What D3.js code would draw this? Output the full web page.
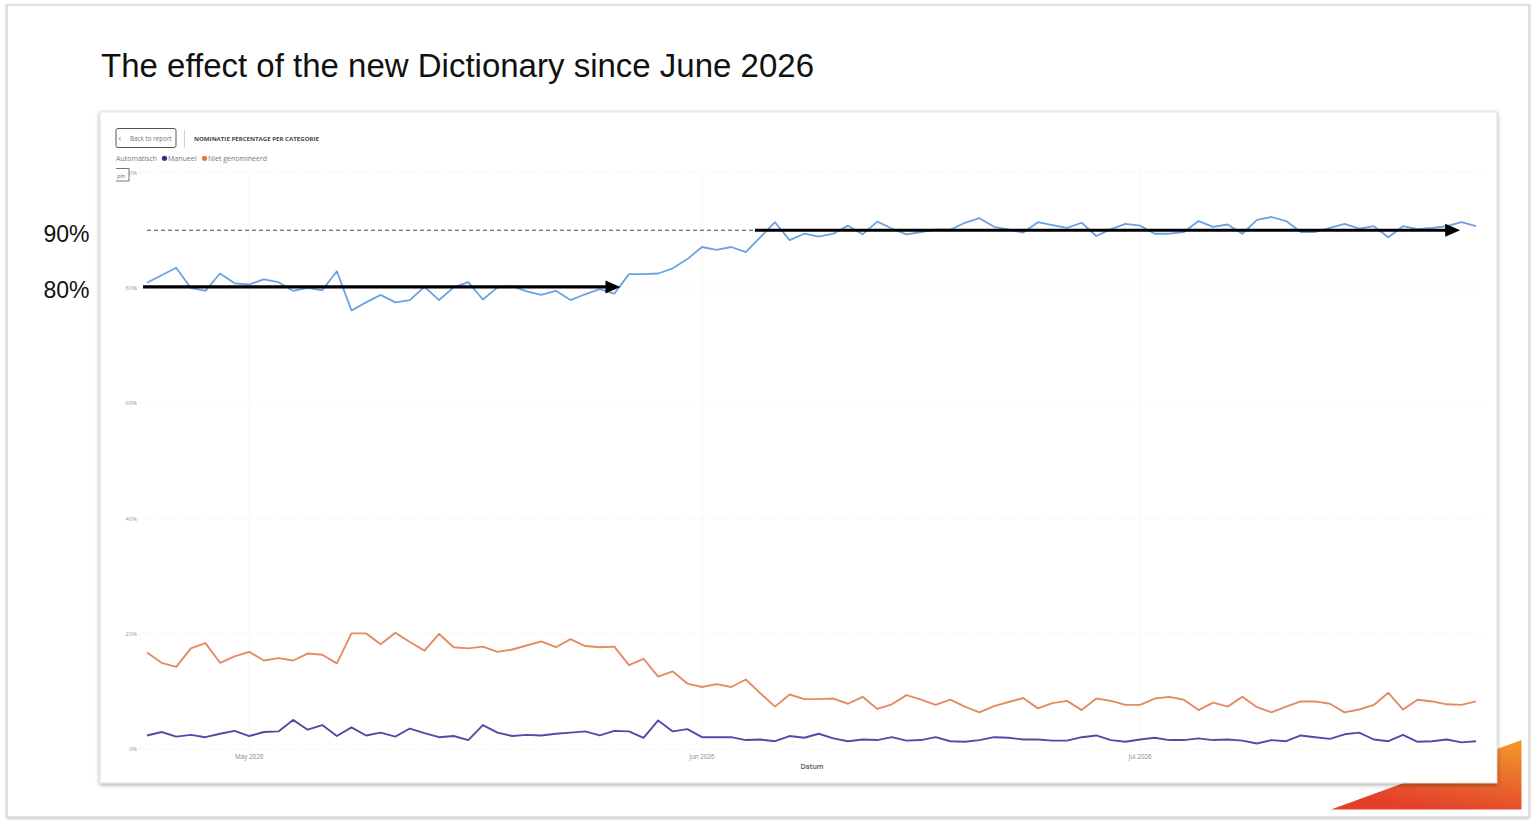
<!DOCTYPE html>
<html><head><meta charset="utf-8">
<script src="https://cdn.jsdelivr.net/npm/d3@7"></script>
<style>
html,body{margin:0;padding:0;background:#fff;}
svg{display:block;}
</style></head>
<body>
<svg id="chart" width="1536" height="826"></svg>
<script>
// ---------- DATA ----------
const startDate = "2026-04-24";
const automatisch = [80.9,82.2,83.5,80.0,79.5,82.5,80.8,80.6,81.5,81.0,79.5,80.0,79.6,82.9,76.1,77.5,78.8,77.5,77.9,80.2,
  77.9,80.1,81.0,78.0,80.1,80.3,79.4,78.8,79.5,77.9,78.9,79.8,79.0,82.4,82.4,82.5,83.4,85.0,87.1,86.6,
  87.1,86.2,88.8,91.4,88.3,89.4,88.9,89.4,90.8,89.3,91.5,90.3,89.3,89.7,90.1,90.1,91.3,92.1,90.6,90.1,
  89.6,91.4,90.9,90.4,91.3,89.0,90.2,91.1,90.8,89.4,89.4,89.7,91.6,90.6,91.0,89.4,91.8,92.3,91.6,89.7,
  89.7,90.4,91.1,90.3,90.7,88.8,90.7,90.2,90.4,90.7,91.4,90.7];
const nietGenomineerd = [16.8,15.0,14.3,17.5,18.4,15.0,16.1,16.9,15.4,15.8,15.4,16.6,16.4,14.9,20.1,20.1,18.2,20.2,18.6,17.1,
  20.0,17.7,17.5,17.8,16.9,17.3,18.0,18.7,17.7,19.1,17.9,17.7,17.8,14.6,15.7,12.6,13.5,11.4,10.8,11.3,
  10.8,12.1,9.7,7.4,9.5,8.7,8.7,8.8,7.9,9.1,7.0,7.8,9.4,8.6,7.7,8.6,7.4,6.4,7.5,8.2,
  8.9,7.1,8.0,8.4,6.8,8.8,8.4,7.7,7.7,8.8,9.1,8.6,6.8,8.1,7.4,9.1,7.3,6.4,7.4,8.3,
  8.3,7.9,6.4,6.9,7.7,9.8,6.9,8.6,8.3,7.8,7.7,8.3];
const manueel = [2.4,3.0,2.2,2.5,2.1,2.7,3.2,2.3,3.0,3.1,5.1,3.4,4.2,2.3,3.8,2.4,2.9,2.2,3.6,2.8,
  2.1,2.3,1.6,4.2,2.9,2.3,2.5,2.4,2.7,2.9,3.1,2.4,3.2,3.1,2.0,5.0,3.1,3.5,2.1,2.1,
  2.1,1.6,1.7,1.4,2.3,2.0,2.7,1.9,1.4,1.7,1.6,2.1,1.5,1.6,2.1,1.4,1.3,1.6,2.1,2.0,
  1.7,1.7,1.5,1.5,2.1,2.4,1.6,1.3,1.7,2.0,1.6,1.6,1.9,1.6,1.7,1.5,1.0,1.6,1.4,2.4,
  2.1,1.8,2.6,2.9,1.7,1.4,2.5,1.3,1.4,1.7,1.2,1.4];
const seriesNames = ["Automatisch","Manueel","Niet genomineerd"];
const monthTicks = ["2026-05-01","2026-06-01","2026-07-01"];
const monthLabels = ["May 2026","Jun 2026","Jul 2026"];
const yTicks = [0,20,40,60,80,100];
const yTickLabels = ["0%","20%","40%","60%","80%","100%"];
const slideTitle = "The effect of the new Dictionary since June 2026";
const reportTitle = "NOMINATIE PERCENTAGE PER CATEGORIE";
const levelLabels = ["90%","80%"];
const levelValues = [90,80];
// annotation arrows (level, from, to)
const arrowLevels = [80,90];
const arrowFrom = ["2026-04-23T17:30","2026-06-04T15:00"];
const arrowTo = ["2026-05-26T10:00","2026-07-22T22:00"];
const dashedFrom = "2026-04-24T00:00", dashedTo = "2026-06-04T15:00", dashedLevel = 90;

// ---------- SETUP ----------
const svg = d3.select("#chart");
const parse = d3.timeParse("%Y-%m-%d");
const parseT = d3.timeParse("%Y-%m-%dT%H:%M");
const start = parse(startDate);
const dates = automatisch.map((_, i) => d3.timeDay.offset(start, i));

const x = d3.scaleTime().domain([dates[0], dates[dates.length-1]]).range([147, 1476]);
const y = d3.scaleLinear().domain([0,100]).range([749.3, 172.6]);

const defs = svg.append("defs");
const sh = defs.append("filter").attr("id","shadow").attr("x","-5%").attr("y","-5%").attr("width","110%").attr("height","112%");
sh.append("feDropShadow").attr("dx",0).attr("dy",1.5).attr("stdDeviation",2).attr("flood-color","#000").attr("flood-opacity",0.35);
const sh2 = defs.append("filter").attr("id","shadow2").attr("x","-2%").attr("y","-2%").attr("width","104%").attr("height","104%");
sh2.append("feDropShadow").attr("dx",0).attr("dy",1).attr("stdDeviation",1.5).attr("flood-color","#000").attr("flood-opacity",0.25);
const grad = defs.append("linearGradient").attr("id","tri").attr("x1","1").attr("y1","0").attr("x2","0.55").attr("y2","1");
grad.append("stop").attr("offset","0").attr("stop-color","#F39A2C");
grad.append("stop").attr("offset","1").attr("stop-color","#E3402B");

// slide frame
svg.append("rect").attr("x",7).attr("y",5).attr("width",1522).attr("height",812)
  .attr("fill","#fff").attr("stroke","#cfcfcf").attr("stroke-width",1.2).attr("filter","url(#shadow2)");

// orange triangle
svg.append("path").attr("d","M1331,809.5 L1521.5,740 L1521.5,809.5 Z").attr("fill","url(#tri)");

// slide title
svg.append("text").attr("x",101).attr("y",76.5).text(slideTitle)
  .attr("font-family","'Liberation Sans', Arial, sans-serif").attr("font-size",33).attr("fill","#111");

// level labels on the slide
const levelDy = [12.2, 9.6];
svg.selectAll("text.lvl").data(levelValues).enter().append("text").attr("class","lvl")
  .attr("x",89.5).attr("y",(d,i) => y(d)+levelDy[i]).attr("text-anchor","end")
  .attr("font-family","'Liberation Sans', Arial, sans-serif").attr("font-size",23).attr("fill","#111")
  .text((d,i) => levelLabels[i]);

// report panel
svg.append("rect").attr("x",100).attr("y",112).attr("width",1397).attr("height",671)
  .attr("fill","#fff").attr("stroke","#d8d8d8").attr("stroke-width",0.8).attr("filter","url(#shadow)");

const pbFont = "'Segoe UI','Open Sans','DejaVu Sans',sans-serif";

// back to report button
svg.append("rect").attr("x",116).attr("y",128.5).attr("width",60).attr("height",19).attr("rx",2)
  .attr("fill","#fff").attr("stroke","#444").attr("stroke-width",0.9);
svg.append("text").attr("x",118.5).attr("y",141).text("‹").attr("font-family",pbFont).attr("font-size",9).attr("fill","#777");
svg.append("text").attr("x",130).attr("y",141).text("Back to report").attr("font-family",pbFont).attr("font-size",6.3).attr("fill","#777");
svg.append("line").attr("x1",184.5).attr("x2",184.5).attr("y1",130).attr("y2",148).attr("stroke","#c8c8c8").attr("stroke-width",0.8);
svg.append("text").attr("x",194).attr("y",141).text(reportTitle).attr("font-family",pbFont)
  .attr("font-size",5.6).attr("font-weight","bold").attr("fill","#444")
  .attr("textLength",125).attr("lengthAdjust","spacingAndGlyphs");

// legend
const legColors = [null,"#2E2E9A","#E8763F"];
const legX = [116,162,202];
const lg = svg.append("g").attr("font-family",pbFont).attr("font-size",7).attr("fill","#777");
seriesNames.forEach((n,i) => {
  let tx = legX[i];
  if (legColors[i]) {
    lg.append("circle").attr("cx",tx+2.5).attr("cy",158.3).attr("r",2.6).attr("fill",legColors[i]);
    tx += 6;
  }
  lg.append("text").attr("x",tx).attr("y",160.8).text(n);
});

// gridlines
const grid = svg.append("g");
grid.selectAll("line.h").data(yTicks).enter().append("line")
  .attr("x1",139).attr("x2",1481).attr("y1",d=>y(d)).attr("y2",d=>y(d))
  .attr("stroke","#ebebeb").attr("stroke-width",0.7).attr("stroke-dasharray","1.5,1.5");
const mTicks = monthTicks.map(parse);
grid.selectAll("line.v").data(mTicks).enter().append("line")
  .attr("x1",d=>x(d)).attr("x2",d=>x(d)).attr("y1",y(100)).attr("y2",y(0))
  .attr("stroke","#f4f4f4").attr("stroke-width",0.7);

// y axis labels
svg.append("g").selectAll("text").data(yTicks).enter().append("text")
  .attr("x",137).attr("y",d=>y(d)+2).attr("text-anchor","end")
  .attr("font-family",pbFont).attr("font-size",5.8).attr("fill","#999")
  .text((d,i)=>yTickLabels[i]);

// pin box (covers part of 100% label)
svg.append("rect").attr("x",113).attr("y",168.5).attr("width",16).attr("height",12.5).attr("fill","#fff");
svg.append("path").attr("d","M116,168.5 H129 V181 H116").attr("fill","none").attr("stroke","#555").attr("stroke-width",0.8);
svg.append("text").attr("x",117).attr("y",177.5).text("pin").attr("font-family",pbFont).attr("font-size",5.5).attr("fill","#666");

// x axis labels
svg.append("g").selectAll("text").data(mTicks).enter().append("text")
  .attr("x",d=>x(d)).attr("y",759).attr("text-anchor","middle")
  .attr("font-family",pbFont).attr("font-size",6.3).attr("fill","#888")
  .text((d,i)=>monthLabels[i]);
svg.append("text").attr("x",812).attr("y",769).attr("text-anchor","middle").text("Datum")
  .attr("font-family",pbFont).attr("font-size",7).attr("font-weight","600").attr("fill","#555");

// series lines
const line = d3.line().x((d,i)=>x(dates[i])).y(d=>y(d));
const series = [
  {vals: automatisch, color:"#6CA2E2", w:1.8},
  {vals: nietGenomineerd, color:"#E58A62", w:1.9},
  {vals: manueel, color:"#4D4DA8", w:1.9}
];
svg.append("g").selectAll("path").data(series).enter().append("path")
  .attr("d",d=>line(d.vals)).attr("fill","none").attr("stroke",d=>d.color)
  .attr("stroke-width",d=>d.w).attr("stroke-linejoin","round");

// dashed 90% reference
svg.append("line").attr("x1",x(parseT(dashedFrom))).attr("x2",x(parseT(dashedTo)))
  .attr("y1",y(dashedLevel)).attr("y2",y(dashedLevel))
  .attr("stroke","#333").attr("stroke-width",0.9).attr("stroke-dasharray","4,3");

// arrows
arrowLevels.forEach((lv,i) => {
  const x1 = x(parseT(arrowFrom[i])), x2 = x(parseT(arrowTo[i])), yy = y(lv) - (lv===80 ? 1 : 0);
  svg.append("line").attr("x1",x1).attr("x2",x2-10).attr("y1",yy).attr("y2",yy)
    .attr("stroke","#000").attr("stroke-width",3.2);
  svg.append("path").attr("d",`M${x2},${yy} L${x2-15},${yy-6.5} L${x2-15},${yy+6.5} Z`).attr("fill","#000");
});
</script>
</body></html>
